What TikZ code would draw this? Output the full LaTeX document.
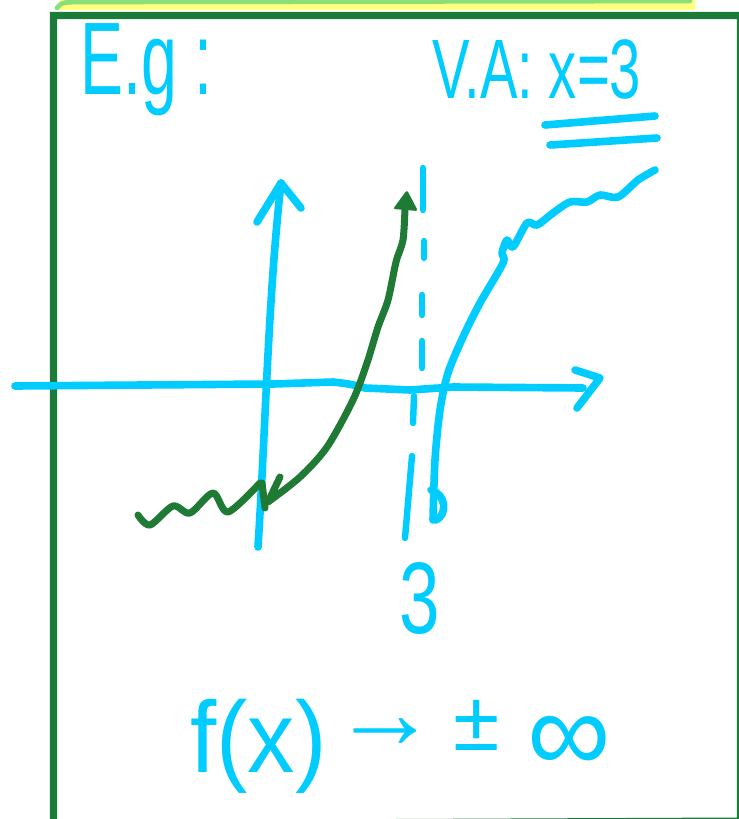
\documentclass[tikz,border=0pt]{standalone}
\usepackage{fontspec}
\setmainfont{Liberation Sans}
\usetikzlibrary{arrows.meta,positioning}
\definecolor{skyline}{RGB}{0,204,255}
\definecolor{framegreen}{RGB}{26,124,56}
\definecolor{inkgreen}{RGB}{30,122,52}
\definecolor{marker}{RGB}{255,255,128}
\definecolor{softgreen}{RGB}{140,222,120}

\begin{document}
\begin{tikzpicture}[x=0.03cm,y=-0.03cm,
    pen/.style={skyline,line width=6.5pt,line cap=round,line join=round},
    gpen/.style={inkgreen,line width=6pt,line cap=round,line join=round},
    every node/.style={text=skyline,inner sep=0pt}]
    \useasboundingbox (0,0) rectangle (739,819);
    % highlighter strip and frame
    \fill[marker] (60,-5) rectangle (695,10);
    \draw[softgreen,line width=4pt,line cap=round] (57,8) .. controls (62,2) .. (90,2) -- (690,1);
    \draw[framegreen,line width=6pt] (53.5,824) -- (53.5,15.5) -- (740.5,15.5) -- (740.5,821) -- cycle;
    % labels
    \node[anchor=base west,font=\fontsize{55}{55}\selectfont] (eg) at (80,95) {\scalebox{1}[1.6]{E.g :}};
    \node[anchor=base west,font=\fontsize{48}{48}\selectfont] (va) at (432,99) {\scalebox{1}[1.5]{V.A: x=3}};
    \draw[pen] (545,125) -- (655,116);
    \draw[pen] (550,145) -- (657,138);
    \node[anchor=base,font=\fontsize{62}{62}\selectfont] (three) at (420,633) {\scalebox{1}[1.4]{3}};
    \node[anchor=base west,font=\fontsize{72}{72}\selectfont] (lim) at (190,772)
      {\scalebox{1.12}[1.2]{f(x)}\hspace{5pt}{\fontsize{90}{90}\selectfont\raisebox{20pt}{→}}\hspace{13pt}\raisebox{18pt}{±}\hspace{24pt}{\fontsize{100}{100}\selectfont ∞}};
    % axes
    \coordinate (ybot) at (258,547);
    \coordinate (ytop) at (281,183);
    \coordinate (xleft) at (15,386);
    \coordinate (xtip) at (600,378);
    \draw[pen] (ybot) .. controls (266,420) and (268,300) .. (ytop);
    \draw[pen] (257,222) -- (ytop) -- (301,208);
    \draw[pen] (xleft) -- (273,384) -- (333,382) .. controls (350,384) .. (365,388)
      -- (410,390) -- (453,387) -- (583,388);
    \draw[pen] (575,370) -- (xtip) -- (577,408);
    % asymptote, one dash at a time
    \foreach \xa/\ya/\xb/\yb in {423/168/423/210, 424/241/424/258, 422/295/422/315,
        422/341/422/368, 414/396/413/423, 412/456/405/538}
      \draw[pen,line width=5.5pt] (\xa,\ya) -- (\xb,\yb);
    % graph to the right of the asymptote
    \draw[pen] plot[smooth] coordinates {(433,520) (435,460) (440,410) (448,373) (463,337)
      (480,303) (503,263) (502,253) (507,240) (513,247) (527,223) (537,225) (553,213)
      (570,202) (587,202) (600,195) (618,197) (638,180) (655,170)};
    \draw[pen] (431,490) .. controls (447,495) and (447,515) .. (436,520);
    % green curve
    \coordinate (gtip) at (407,190);
    \draw[gpen] plot[smooth] coordinates {(138,515) (150,525) (173,506) (190,513) (213,493)
      (228,512) (260,483)};
    \draw[gpen] (262,483) -- (265,508);
    \draw[gpen] (280,477) -- (268,502) plot[smooth] coordinates {(268,502) (300,477) (327,447)
      (353,400) (367,363) (378,327) (388,300) (396,262) (403,240) (405,208)};
    \fill[inkgreen,rounded corners=2pt] (gtip) -- (418,211) -- (393,209) -- cycle;
\end{tikzpicture}
\end{document}
